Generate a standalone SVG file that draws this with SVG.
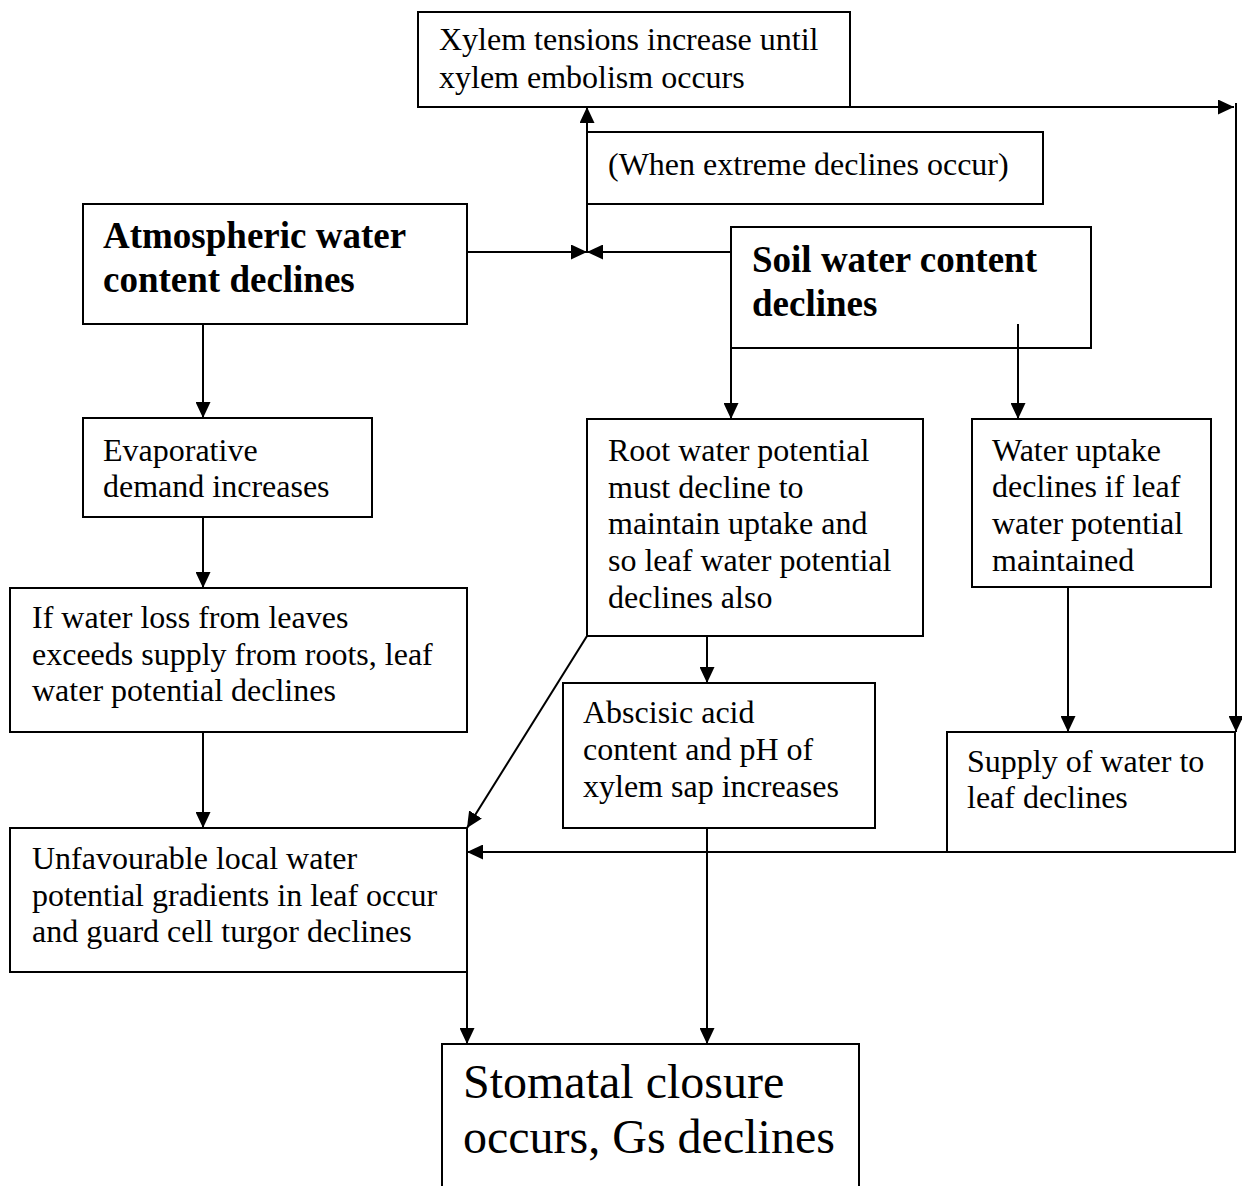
<svg xmlns="http://www.w3.org/2000/svg" width="1242" height="1186" viewBox="0 0 1242 1186">
<style>
.box{fill:#fff;stroke:#000;stroke-width:2}
.t{font-family:"Liberation Serif","Times New Roman",serif;font-size:32px;fill:#000}
.b{font-family:"Liberation Serif","Times New Roman",serif;font-size:37px;font-weight:bold;fill:#000}
.big{font-family:"Liberation Serif","Times New Roman",serif;font-size:48px;fill:#000}
.c{fill:none;stroke:#000;stroke-width:2}
</style>
<defs>
<marker id="ah" markerUnits="userSpaceOnUse" markerWidth="16" markerHeight="15" refX="16" refY="7.5" orient="auto" viewBox="0 0 16 15">
<path d="M0,0 L16,7.5 L0,15 z" fill="#000"/>
</marker>
</defs>
<rect width="1242" height="1186" fill="#fff"/>
<g id="xylem">
<rect class="box" x="418" y="12" width="432" height="95"/>
<text class="t" x="439" y="50">Xylem tensions increase until</text>
<text class="t" x="439" y="88">xylem embolism occurs</text>
</g>
<g id="extreme">
<rect class="box" x="587" y="132" width="456" height="72"/>
<text class="t" x="608" y="175">(When extreme declines occur)</text>
</g>
<g id="atmos">
<rect class="box" x="83" y="204" width="384" height="120"/>
<text class="b" x="103" y="248">Atmospheric water</text>
<text class="b" x="103" y="292">content declines</text>
</g>
<g id="soil">
<rect class="box" x="731" y="227" width="360" height="121"/>
<text class="b" x="752" y="272">Soil water content</text>
<text class="b" x="752" y="316">declines</text>
</g>
<g id="evap">
<rect class="box" x="83" y="418" width="289" height="99"/>
<text class="t" x="103" y="461">Evaporative</text>
<text class="t" x="103" y="497">demand increases</text>
</g>
<g id="root">
<rect class="box" x="587" y="419" width="336" height="217"/>
<text class="t" x="608" y="461">Root water potential</text>
<text class="t" x="608" y="498">must decline to</text>
<text class="t" x="608" y="534">maintain uptake and</text>
<text class="t" x="608" y="571">so leaf water potential</text>
<text class="t" x="608" y="608">declines also</text>
</g>
<g id="uptake">
<rect class="box" x="972" y="419" width="239" height="168"/>
<text class="t" x="992" y="461">Water uptake</text>
<text class="t" x="992" y="497">declines if leaf</text>
<text class="t" x="992" y="534">water potential</text>
<text class="t" x="992" y="571">maintained</text>
</g>
<g id="ifwater">
<rect class="box" x="10" y="588" width="457" height="144"/>
<text class="t" x="32" y="628">If water loss from leaves</text>
<text class="t" x="32" y="665">exceeds supply from roots, leaf</text>
<text class="t" x="32" y="701">water potential declines</text>
</g>
<g id="abscisic">
<rect class="box" x="563" y="683" width="312" height="145"/>
<text class="t" x="583" y="723">Abscisic acid</text>
<text class="t" x="583" y="760">content and pH of</text>
<text class="t" x="583" y="797">xylem sap increases</text>
</g>
<g id="supply">
<rect class="box" x="947" y="732" width="288" height="120"/>
<text class="t" x="967" y="772">Supply of water to</text>
<text class="t" x="967" y="808">leaf declines</text>
</g>
<g id="unfav">
<rect class="box" x="10" y="828" width="457" height="144"/>
<text class="t" x="32" y="869">Unfavourable local water</text>
<text class="t" x="32" y="906">potential gradients in leaf occur</text>
<text class="t" x="32" y="942">and guard cell turgor declines</text>
</g>
<g id="stomatal">
<rect class="box" x="442" y="1044" width="417" height="160"/>
<text class="big" x="463" y="1098">Stomatal closure</text>
<text class="big" x="463" y="1153">occurs, Gs declines</text>
</g>
<g id="connectors">
<path class="c" d="M467,252 H587" marker-end="url(#ah)"/>
<path class="c" d="M731,252 H587" marker-end="url(#ah)"/>
<path class="c" d="M587,252 V107" marker-end="url(#ah)"/>
<path class="c" d="M850,107 H1234" marker-end="url(#ah)"/>
<path class="c" d="M1236,103 V732" marker-end="url(#ah)"/>
<path class="c" d="M203,324 V418" marker-end="url(#ah)"/>
<path class="c" d="M203,517 V588" marker-end="url(#ah)"/>
<path class="c" d="M203,732 V828" marker-end="url(#ah)"/>
<path class="c" d="M731,348 V419" marker-end="url(#ah)"/>
<path class="c" d="M1018,324 V419" marker-end="url(#ah)"/>
<path class="c" d="M707,636 V683" marker-end="url(#ah)"/>
<path class="c" d="M587,636 L467,828" marker-end="url(#ah)"/>
<path class="c" d="M1068,587 V732" marker-end="url(#ah)"/>
<path class="c" d="M947,852 H467" marker-end="url(#ah)"/>
<path class="c" d="M467,972 V1044" marker-end="url(#ah)"/>
<path class="c" d="M707,828 V1044" marker-end="url(#ah)"/>
</g>
</svg>
